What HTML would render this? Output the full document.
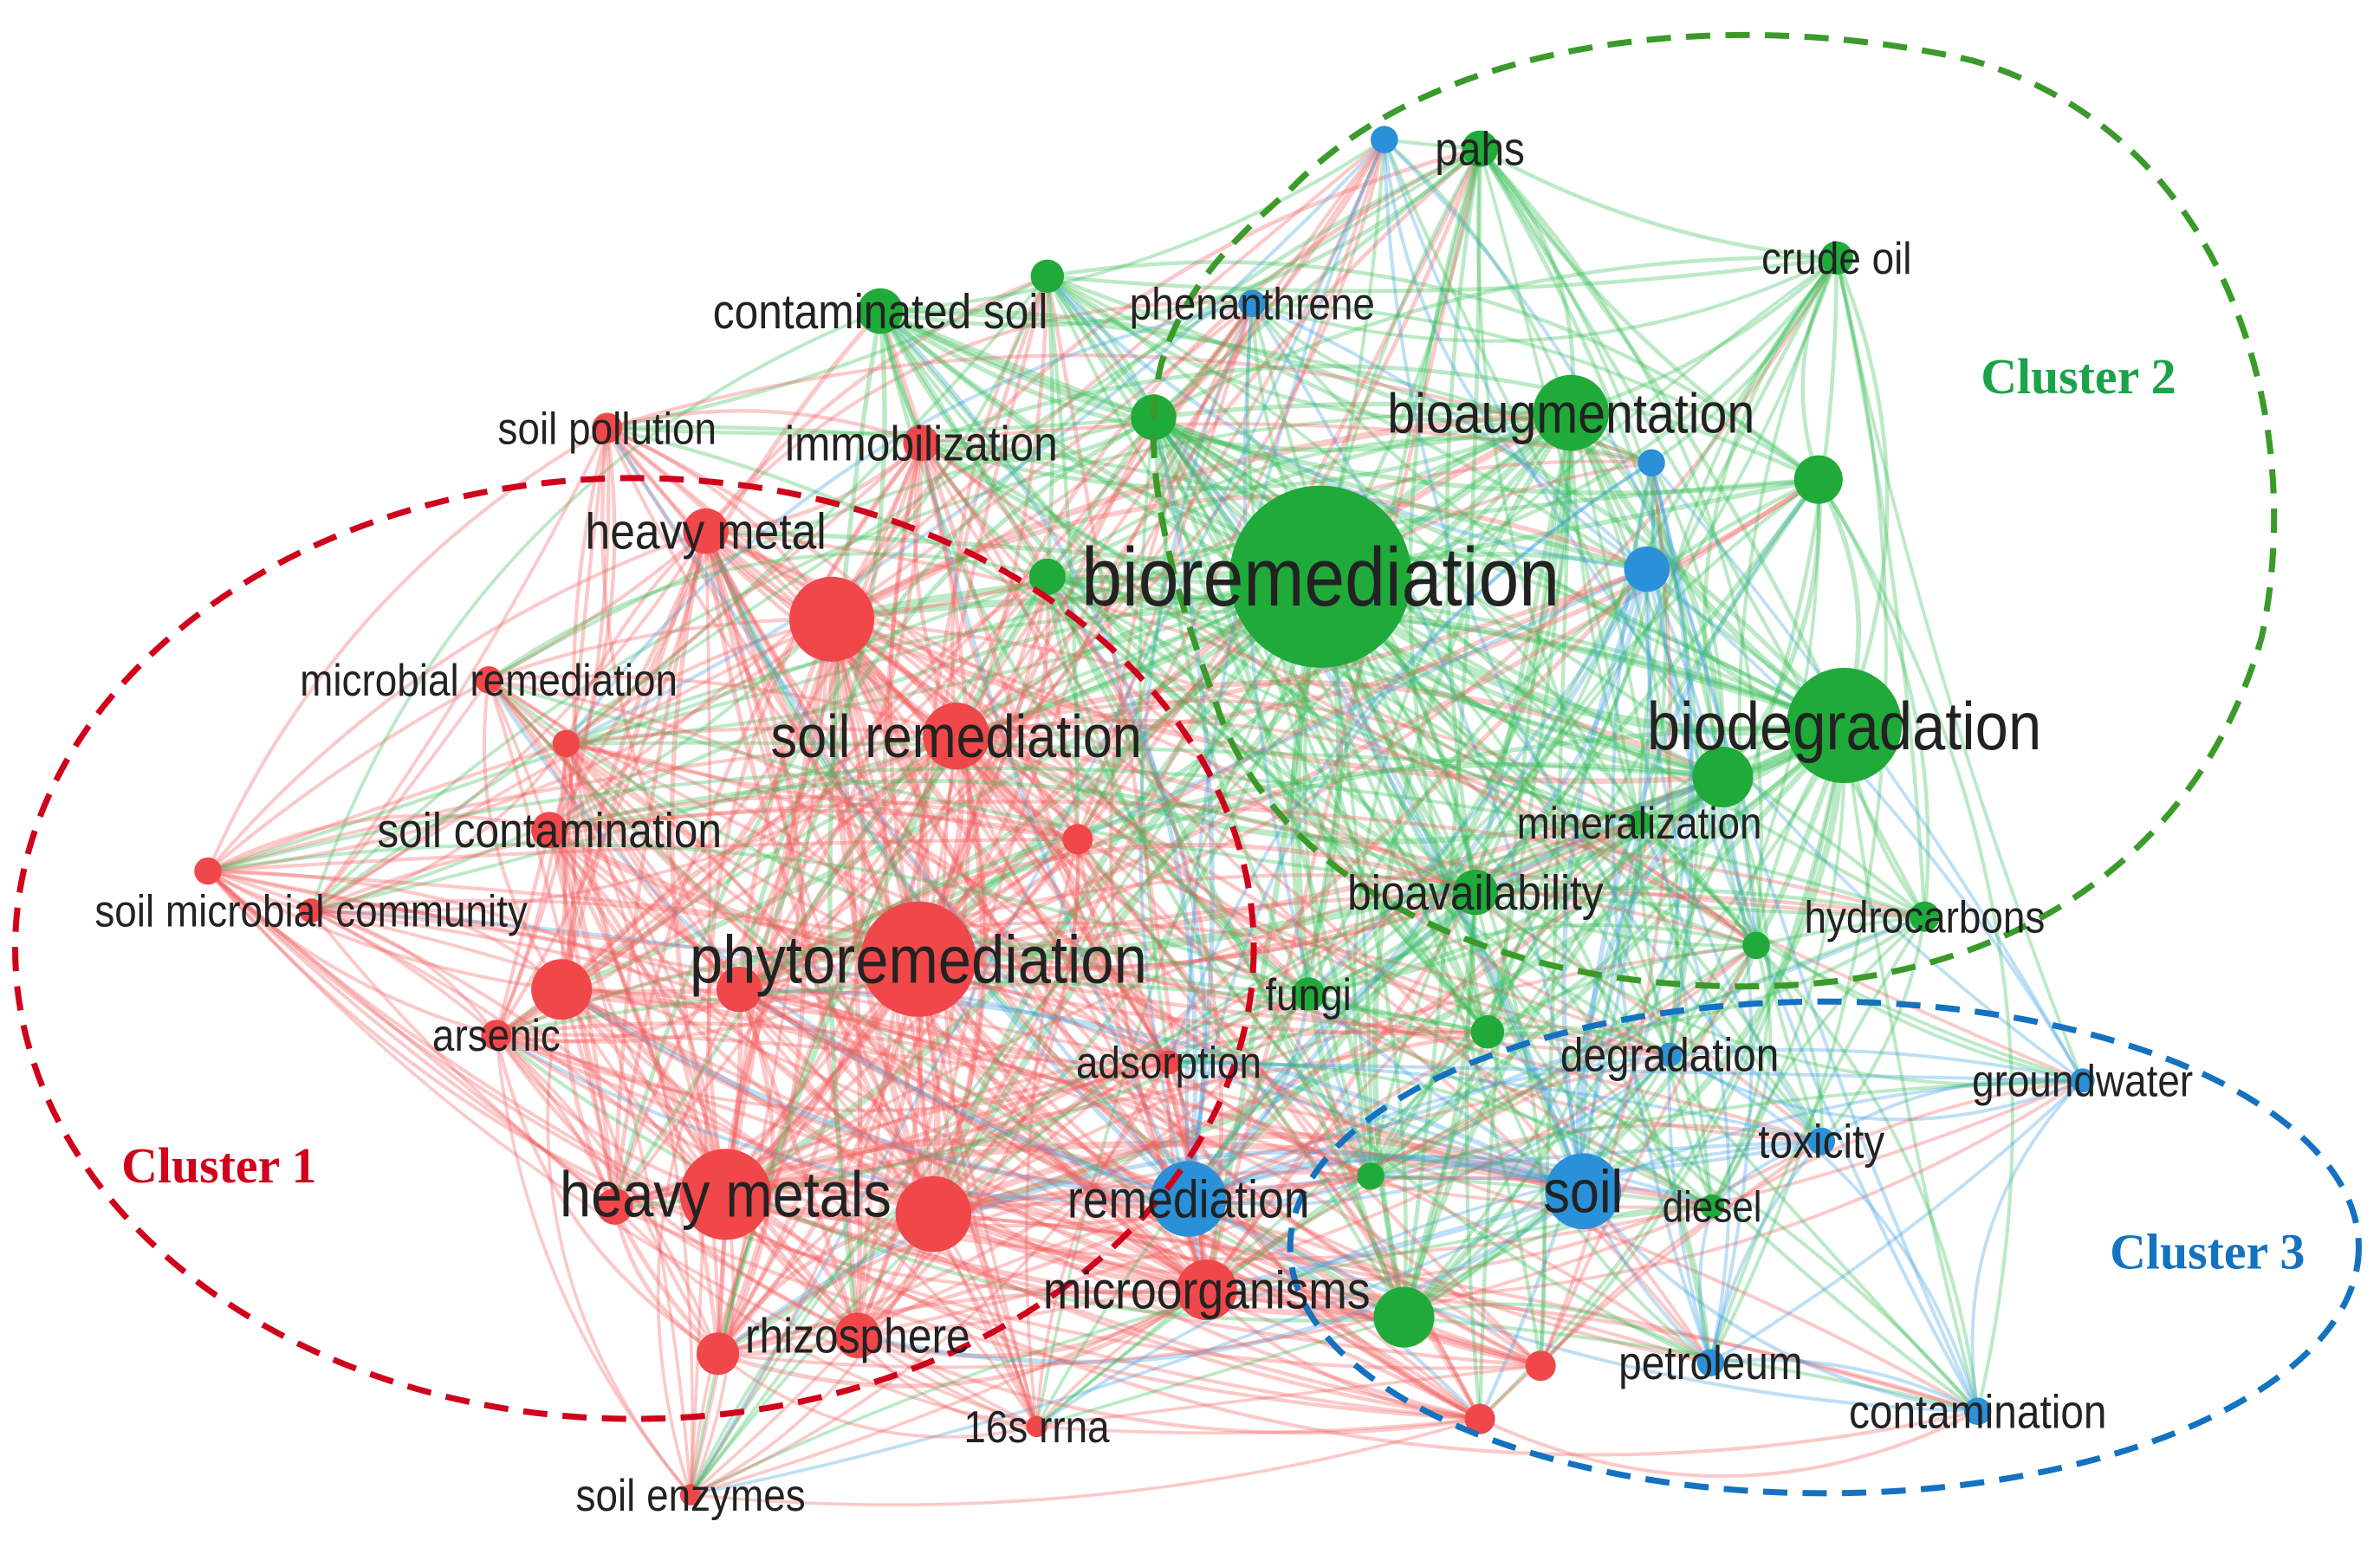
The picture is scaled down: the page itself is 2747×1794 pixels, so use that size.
<!DOCTYPE html>
<html><head><meta charset="utf-8"><style>
html,body{margin:0;padding:0;background:#fff;}
svg{display:block;}
text{font-family:"Liberation Sans",Arial,sans-serif;fill:#222;}
.cl{font-family:"Liberation Serif",serif;font-weight:bold;}
</style></head><body>
<svg id="s" width="2747" height="1794" viewBox="0 0 1568 1024" xmlns="http://www.w3.org/2000/svg">
<rect width="1568" height="1024" fill="#fff"/>
<g id="edges" fill="none"></g>
<g id="nodes"></g>
<g fill="none" stroke-width="4" stroke-dasharray="16,10">
<ellipse cx="418" cy="625" rx="408" ry="310" stroke="#d0021b"/>
<path d="M850,125 C950,20 1150,5 1300,40 C1470,90 1520,280 1490,420 C1450,560 1330,650 1150,650 C950,650 830,560 800,460 C770,380 750,300 765,240 C780,190 810,160 850,125" stroke="#3a9a2a"/>
<ellipse cx="1202" cy="822" rx="352" ry="162" stroke="#1472c0"/>
</g>
<g id="labels"></g>
<text class="cl" x="80" y="779" font-size="33" style="fill:#d0021b">Cluster 1</text>
<text class="cl" x="1305" y="259" font-size="33" style="fill:#1aa34a">Cluster 2</text>
<text class="cl" x="1390" y="836" font-size="33" style="fill:#1472c0">Cluster 3</text>
</svg>
<script>
var R='#f0474a',G='#1faa3a',B='#2a90d8';
var N=[
[870,380,60,G,'bioremediation',44],
[1215,478,38,G,'biodegradation',36],
[1035,272,25,G,'bioaugmentation',30],
[605,632,38,R,'phytoremediation',36],
[630,485,22,R,'soil remediation',32],
[465,350,15,R,'heavy metal',27],
[548,408,28,R,'',0],
[478,787,30,R,'heavy metals',34],
[615,800,25,R,'',0],
[783,790,25,B,'remediation',28],
[795,850,20,R,'microorganisms',28],
[925,868,20,G,'',0],
[1043,785,25,B,'soil',32],
[975,98,12,G,'pahs',25],
[912,92,9,B,'',0],
[1210,170,11,G,'crude oil',24],
[580,205,15,G,'contaminated soil',26],
[690,182,11,G,'',0],
[825,200,9,B,'phenanthrene',24],
[760,275,15,G,'',0],
[400,282,10,R,'soil pollution',24],
[607,292,12,R,'immobilization',26],
[1088,305,9,B,'',0],
[1085,375,15,B,'',0],
[1198,316,16,G,'',0],
[690,380,12,G,'',0],
[322,448,9,R,'microbial remediation',24],
[373,490,9,R,'',0],
[362,547,12,R,'soil contamination',26],
[710,553,10,R,'',0],
[137,574,9,R,'',0],
[205,600,8,R,'soil microbial community',24],
[370,652,20,R,'',0],
[487,652,15,R,'',0],
[327,682,10,R,'arsenic',24],
[1135,512,20,G,'',0],
[1080,542,8,G,'mineralization',24],
[972,588,15,G,'bioavailability',26],
[1268,604,10,G,'hydrocarbons',24],
[1157,623,9,G,'',0],
[862,655,11,G,'fungi',24],
[980,680,11,G,'',0],
[1100,695,8,B,'degradation',25],
[1372,712,8,B,'groundwater',24],
[1200,752,9,B,'toxicity',25],
[1128,795,8,G,'diesel',23],
[903,775,9,G,'',0],
[473,892,14,R,'',0],
[565,880,15,R,'rhizosphere',26],
[683,940,7,R,'16s rrna',24],
[455,985,7,R,'soil enzymes',24],
[1015,900,10,R,'',0],
[975,935,10,R,'',0],
[1127,898,9,B,'petroleum',25],
[1303,930,9,B,'contamination',25],
[405,795,12,R,'',0],
[770,700,8,R,'adsorption',24]
];
var ns='http://www.w3.org/2000/svg';
var E=document.getElementById('edges'),ND=document.getElementById('nodes'),L=document.getElementById('labels');
var seed=7;function rnd(){seed=(seed*16807)%2147483647;return seed/2147483647;}
var col={};col[R]='#f25a5c';col[G]='#34bb52';col[B]='#3a9ee2';
for(var i=0;i<N.length;i++)for(var j=i+1;j<N.length;j++){
 var a=N[i],b=N[j];var p=0.4+(a[2]+b[2])/70;var d=Math.hypot(a[0]-b[0],a[1]-b[1]);
 if(a[3]!=b[3])p*=0.55;
 if(d>700)p*=0.4;
 if(rnd()>p)continue;
 var mx=(a[0]+b[0])/2,my=(a[1]+b[1])/2,k=(rnd()-0.5)*0.5;
 var cx=mx-(b[1]-a[1])*k,cy=my+(b[0]-a[0])*k;
 var pth=document.createElementNS(ns,'path');
 pth.setAttribute('d','M'+a[0]+','+a[1]+' Q'+cx+','+cy+' '+b[0]+','+b[1]);
 var c=a[2]>=b[2]?a[3]:b[3];
 pth.setAttribute('stroke',col[c]);pth.setAttribute('stroke-opacity',0.33);
 pth.setAttribute('stroke-width',1.2+Math.min(a[2],b[2])/8);
 E.appendChild(pth);
}
N.forEach(function(n){
 var c=document.createElementNS(ns,'circle');
 c.setAttribute('cx',n[0]);c.setAttribute('cy',n[1]);c.setAttribute('r',n[2]);c.setAttribute('fill',n[3]);
 ND.appendChild(c);
 if(n[4]){var fs=n[5]*1.24;var t=document.createElementNS(ns,'text');t.setAttribute('x',n[0]);t.setAttribute('y',n[1]+fs*0.35);
 t.setAttribute('text-anchor','middle');t.setAttribute('font-size',fs);t.textContent=n[4];
 t.setAttribute('transform','translate('+n[0]+',0) scale(0.88,1) translate('+(-n[0])+',0)');
 L.appendChild(t);}
});
</script>
</body></html>
